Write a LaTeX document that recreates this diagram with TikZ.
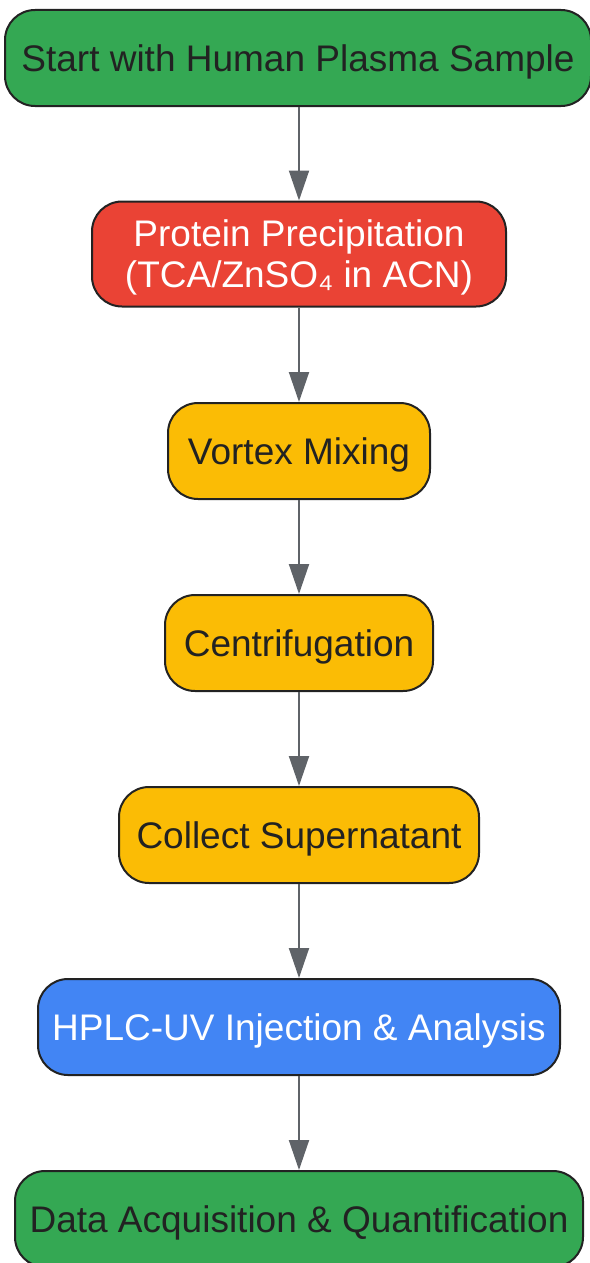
\documentclass[tikz,border=0pt]{standalone}
\usepackage{fontspec}
\setmainfont{Liberation Sans}
\usetikzlibrary{arrows.meta}

\definecolor{stepgreen}{HTML}{34A853}
\definecolor{stepred}{HTML}{EA4335}
\definecolor{stepyellow}{HTML}{FBBC05}
\definecolor{stepblue}{HTML}{4285F4}
\definecolor{stepline}{HTML}{222222}
\definecolor{arrowgray}{HTML}{5F6368}

\begin{document}
\begin{tikzpicture}[x=1pt,y=-1pt,
    stepbox/.style={draw=stepline, line width=2pt, rounded corners=30pt,
      minimum height=96pt, align=center, font=\fontsize{37}{41}\selectfont,
      text=stepline, inner sep=0pt, text depth=0pt},
    flow/.style={draw=arrowgray, line width=2pt,
      -{Triangle[length=30pt,width=20pt]}}]
        \useasboundingbox (0,0) rectangle (589,1263);

        % Steps
        \node[stepbox, fill=stepgreen, minimum width=586pt] (start) at (298,58) {Start with Human Plasma Sample};
        \node[stepbox, fill=stepred, text=white, minimum width=414pt, minimum height=105pt] (precip) at (299,254) {Protein Precipitation\\(TCA/ZnSO₄ in ACN)};
        \node[stepbox, fill=stepyellow, minimum width=262pt] (vortex) at (299,451) {Vortex Mixing};
        \node[stepbox, fill=stepyellow, minimum width=268pt] (centri) at (299,643) {Centrifugation};
        \node[stepbox, fill=stepyellow, minimum width=360pt] (collect) at (299,835) {Collect Supernatant};
        \node[stepbox, fill=stepblue, text=white, minimum width=522pt] (hplc) at (299,1027) {HPLC-UV Injection \& Analysis};
        \node[stepbox, fill=stepgreen, minimum width=568pt] (data) at (299,1219) {Data Acquisition \& Quantification};

        % Connectors
        \draw[flow] (start.south -| precip.north) -- (precip.north);
        \draw[flow] (precip) -- (vortex);
        \draw[flow] (vortex) -- (centri);
        \draw[flow] (centri) -- (collect);
        \draw[flow] (collect) -- (hplc);
        \draw[flow] (hplc) -- (data);
\end{tikzpicture}
\end{document}
